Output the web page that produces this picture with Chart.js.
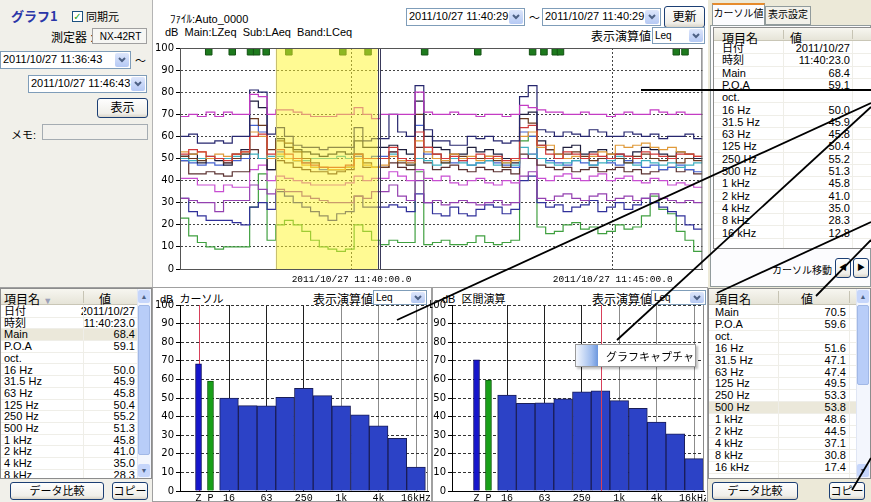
<!DOCTYPE html>
<html lang="ja"><head><meta charset="utf-8">
<title>グラフ1</title>
<script src="https://cdn.jsdelivr.net/npm/chart.js@4.4.1/dist/chart.umd.min.js"></script>
<style>
body{margin:0;width:871px;height:502px;position:relative;overflow:hidden;background:#f1f0ea;font:11px "Liberation Sans","Noto Sans CJK JP",sans-serif;color:#000}
.p{position:absolute;white-space:nowrap}
.box{position:absolute;box-sizing:border-box;background:#fff;border:1px solid #7f9db9;line-height:15px;padding-left:2px;overflow:hidden}
.dd{position:absolute;right:1px;top:1px;bottom:1px;width:14px;border-radius:2px;background:linear-gradient(#dde6fb,#b5c9f4);display:flex;align-items:center;justify-content:center}
.btn{position:absolute;box-sizing:border-box;border:1px solid #1c3f74;border-radius:3px;background:linear-gradient(#fefefe,#f0efea 80%,#d9d4c8);text-align:center}
.tbl{position:absolute;box-sizing:border-box;background:#fff;border:1px solid #8c8c8c;overflow:hidden}
.row{position:absolute;left:0;right:0;box-sizing:border-box;border-bottom:1px solid #efeee8}
.hd{position:absolute;left:0;right:0;top:0;box-sizing:border-box;background:linear-gradient(#f7f6f0,#e6e4d8);border-bottom:1px solid #c9c6b6;font-size:12px}
canvas{position:absolute}
</style></head><body>

<!-- 左上パネル -->
<div class="p" style="left:11px;top:6px;font:bold 13px 'Noto Sans CJK JP';color:#2a36a8">グラフ1</div>
<div class="p" style="left:72px;top:11px;width:11px;height:11px;box-sizing:border-box;border:1px solid #1c5180;background:#fff;color:#21a121;font:bold 10px/9px 'DejaVu Sans';text-align:center">✓</div>
<div class="p" style="left:86px;top:8px">同期元</div>
<div class="p" style="left:51px;top:28px;font-size:12px">測定器 :</div>
<div class="box" style="left:92px;top:28px;width:55px;height:16px;background:#f6f6f3;border-color:#a0a0a0;text-align:center;font-size:10px">NX-42RT</div>
<div class="box" style="left:0;top:51px;width:131px;height:18px">2011/10/27 11:36:43<div class="dd"><svg width="8" height="6"><polyline points="1,1 4,4 7,1" fill="none" stroke="#4d6185" stroke-width="2"/></svg></div></div>
<div class="p" style="left:135px;top:52px">〜</div>
<div class="box" style="left:28px;top:75px;width:119px;height:18px">2011/10/27 11:46:43<div class="dd"><svg width="8" height="6"><polyline points="1,1 4,4 7,1" fill="none" stroke="#4d6185" stroke-width="2"/></svg></div></div>
<div class="btn" style="left:97px;top:98px;width:51px;height:20px;line-height:18px;font-size:12px">表示</div>
<div class="p" style="left:11px;top:126px">メモ:</div>
<div class="box" style="left:42px;top:124px;width:106px;height:16px;background:#f2f1ed;border-color:#a5acb2"></div>

<!-- 上グラフ -->
<div class="p" style="left:152px;top:0;width:556px;height:287px;background:#fff;border-left:1px solid #b4b4b4;box-sizing:border-box"></div>
<div class="p" style="left:170px;top:10px">ﾌｧｲﾙ:Auto_0000</div>
<div class="p" style="left:165px;top:26px">dB&nbsp;&nbsp;Main:LZeq&nbsp;&nbsp;Sub:LAeq&nbsp;&nbsp;Band:LCeq</div>
<div class="box" style="left:406px;top:8px;width:119px;height:18px">2011/10/27 11:40:29<div class="dd"><svg width="8" height="6"><polyline points="1,1 4,4 7,1" fill="none" stroke="#4d6185" stroke-width="2"/></svg></div></div>
<div class="p" style="left:529px;top:9px">〜</div>
<div class="box" style="left:542px;top:8px;width:119px;height:18px">2011/10/27 11:40:29<div class="dd"><svg width="8" height="6"><polyline points="1,1 4,4 7,1" fill="none" stroke="#4d6185" stroke-width="2"/></svg></div></div>
<div class="btn" style="left:664px;top:6px;width:41px;height:22px;line-height:20px;font-size:12px">更新</div>
<div class="p" style="left:591px;top:27px;font-size:12px">表示演算値</div>
<div class="box" style="left:652px;top:27px;width:53px;height:17px;font-size:10px">Leq<div class="dd"><svg width="8" height="6"><polyline points="1,1 4,4 7,1" fill="none" stroke="#4d6185" stroke-width="2"/></svg></div></div>
<canvas id="trend" width="556" height="247" style="left:152px;top:40px"></canvas>

<!-- 右上パネル -->
<div class="p" style="left:708px;top:0;width:163px;height:287px;background:#ece9d8"></div>
<div class="p" style="left:712px;top:3px;width:53px;height:22px;box-sizing:border-box;background:#fcfcfe;border:1px solid #919b9c;border-bottom:none;border-top:2px solid #e68b2c;text-align:center;line-height:18px;font-size:10px">カーソル値</div>
<div class="p" style="left:765px;top:6px;width:46px;height:19px;box-sizing:border-box;background:#f2f1ea;border:1px solid #919b9c;text-align:center;line-height:16px;font-size:10px">表示設定</div>
<div class="p" style="left:710px;top:25px;width:161px;height:262px;box-sizing:border-box;background:#fcfcfe;border:1px solid #919b9c"></div>
<div class="tbl" id="tblCursor" style="left:713px;top:27px;width:160px;height:222px"></div>
<div class="p" style="left:772px;top:262px;font-size:10px">カーソル移動</div>
<div class="btn" style="left:835px;top:258px;width:16px;height:20px;font-size:8px;line-height:18px">◀</div>
<div class="btn" style="left:853px;top:258px;width:16px;height:20px;font-size:8px;line-height:18px">▶</div>

<!-- 左下テーブル -->
<div class="p" style="left:0;top:287px;width:152px;height:215px;background:#f1f0ea;border-top:1px solid #a0a0a0;box-sizing:border-box"></div>
<div class="tbl" id="tblLeft" style="left:0;top:288px;width:152px;height:191px"></div>
<div class="btn" style="left:10px;top:482px;width:94px;height:18px;line-height:16px">データ比較</div>
<div class="btn" style="left:112px;top:482px;width:36px;height:18px;line-height:16px">コピー</div>

<!-- 下グラフ -->
<div class="p" style="left:152px;top:287px;width:280px;height:215px;background:#fff;border:1px solid #a0a0a0;box-sizing:border-box"></div>
<div class="p" style="left:432px;top:287px;width:276px;height:215px;background:#fff;border:1px solid #a0a0a0;box-sizing:border-box"></div>
<div class="p" style="left:160px;top:290px">dB&nbsp;&nbsp;カーソル</div>
<div class="p" style="left:313px;top:290px;font-size:12px">表示演算値</div>
<div class="box" style="left:373px;top:290px;width:54px;height:15px;line-height:13px;font-size:10px">Leq<div class="dd"><svg width="8" height="6"><polyline points="1,1 4,4 7,1" fill="none" stroke="#4d6185" stroke-width="2"/></svg></div></div>
<div class="p" style="left:442px;top:290px">dB&nbsp;&nbsp;区間演算</div>
<div class="p" style="left:592px;top:290px;font-size:12px">表示演算値</div>
<div class="box" style="left:651px;top:290px;width:55px;height:15px;line-height:13px;font-size:10px">Leq<div class="dd"><svg width="8" height="6"><polyline points="1,1 4,4 7,1" fill="none" stroke="#4d6185" stroke-width="2"/></svg></div></div>
<canvas id="barCursor" width="278" height="205" style="left:152px;top:297px"></canvas>
<canvas id="barInterval" width="276" height="205" style="left:430px;top:297px"></canvas>

<!-- 右下テーブル -->
<div class="p" style="left:708px;top:287px;width:163px;height:215px;background:#ece9d8"></div>
<div class="tbl" id="tblRight" style="left:708px;top:288px;width:163px;height:191px"></div>
<div class="btn" style="left:712px;top:482px;width:86px;height:18px;line-height:16px">データ比較</div>
<div class="btn" style="left:829px;top:482px;width:36px;height:18px;line-height:16px">コピー</div>

<!-- コンテキストメニュー -->
<div class="p" style="left:575px;top:344px;width:121px;height:23px;box-sizing:border-box;background:#fff;border:1px solid #9a9a9a;box-shadow:2px 2px 2px rgba(0,0,0,.25)">
  <div class="p" style="left:0;top:0;width:22px;height:21px;background:linear-gradient(90deg,#f4f7fd,#9fbdee 70%,#6d98de)"></div>
  <div class="p" style="left:30px;top:3px">グラフキャプチャ</div>
</div>

<svg class="p" width="871" height="502" style="left:0;top:0" stroke="#000" stroke-width="1.8">
  <line x1="641" y1="90" x2="871" y2="90"/>
  <line x1="397" y1="320" x2="871" y2="103"/>
  <line x1="617" y1="340" x2="871" y2="107"/>
  <line x1="717" y1="293" x2="871" y2="222"/>
  <line x1="816" y1="296" x2="871" y2="240"/>
  <line x1="852" y1="490" x2="871" y2="458"/>
</svg>

<script>
// 時間軸 (秒, 11:36:43 起点, 10秒ステップ)
const STEP_SEC = 10
const TIME_TICKS = [197, 497]
const TIME_LABELS = ['2011/10/27 11:40:00.0', '2011/10/27 11:45:00.0']
const HIGHLIGHT = [110, 227]
const CURSOR_T = 228

const MAIN  = [69,70,69,71,69,71,70,70, 79,78, 70, 72,72,71,70,69,69,69,70,70,73,70,68,70, 70,70,70, 80, 71,70,70,71,70,70,69,70,70,69,70, 74,73, 72,71,71,70,70,71,70,70,69,70,71,70,70,72,71,70,71,70,70]
const POA   = [60,61,57,57,58,57,60,60, 81,80, 61, 64,60,56,55,55,54,55,55,55,64,58,59,59, 70,62,60, 83, 63,58,58,56,56,60,59,60,58,57,58, 78,83, 63,62,60,62,61,60,63,62,60,60,62,61,60,61,59,60,60,61,59]
const B16   = [52,54,53,51,50,49,52,53, 60,61, 52, 54,52,50,48,47,46,46,46,47,52,50,50,50, 55,50,49, 62, 55,52,50,51,49,50,52,50,51,49,50, 64,65, 56,52,50,53,52,50,52,51,50,52,51,50,53,52,51,50,52,52,51]
const B31   = [53,52,53,50,52,51,52,53, 62,60, 50, 52,50,49,47,46,46,45,45,46,50,47,46,47, 51,49,48, 58, 53,50,49,52,50,51,49,51,50,48,49, 60,62, 55,56,52,50,51,50,51,53,52,56,55,56,57,55,54,55,53,52,51]
const B63   = [51,50,49,50,50,48,50,52, 68,65, 54, 58,57,53,50,48,46,45,45,46,52,48,46,46, 53,48,47, 70, 55,52,48,52,51,50,50,51,49,46,50, 68,66, 56,54,50,52,53,51,49,50,52,50,48,51,52,50,49,51,48,50,49]
const B125  = [50,49,50,51,50,50,51,52, 52,50, 51, 51,50,49,49,50,50,50,51,50,52,50,50,50, 52,49,47, 50, 49,47,48,50,48,47,48,49,47,48,47, 55,52, 50,48,47,48,49,50,47,48,49,51,48,47,49,48,47,48,46,47,48]
const B250  = [51,52,48,50,49,47,52,54, 76,73, 45, 59,55,54,53,52,51,52,53,52,58,55,55,55, 56,54,52, 76, 60,55,54,50,52,55,53,54,52,50,48, 70,71, 58,54,52,55,56,52,53,54,50,52,51,53,55,54,52,51,53,52,50]
const B500  = [49,48,47,48,47,48,49,50, 65,62, 50, 53,50,49,48,46,45,45,45,46,51,50,51,51, 53,50,48, 65, 52,50,49,48,49,47,48,49,48,47,46, 62,60, 50,49,48,47,49,48,47,50,48,47,49,48,46,47,45,46,47,45,44]
const B1K   = [49,43,43,44,43,42,44,44, 54,50, 45, 49,48,46,45,44,44,43,44,45,50,46,46,46, 48,46,45, 55, 48,45,46,47,45,44,46,45,44,45,43, 52,50, 47,46,45,46,44,45,46,44,45,46,44,45,43,44,45,46,44,45,43]
const B2K   = [41,41,38,38,35,38,37,37, 45,47, 40, 42,41,40,39,38,38,38,38,39,42,40,41,41, 44,42,40, 45, 41,40,42,39,38,40,41,39,38,40,39, 50,52, 41,40,42,43,41,40,42,43,40,41,42,40,39,41,40,38,39,38,37]
const B4K   = [32,31,30,30,26,31,31,31, 38,36, 34, 36,35,35,33,32,31,30,30,30,33,32,35,35, 38,33,31, 40, 30,31,29,30,31,30,29,30,31,29,30, 42,44, 32,31,33,34,32,31,33,34,31,32,33,31,32,34,32,31,30,31,30]
const B8K   = [32,26,24,22,22,22,21,20, 28,30, 27, 35,33,30,28,26,24,22,25,26,33,28,28,28, 29,28,26, 34, 30,25,24,28,25,24,27,29,28,25,27, 40,42, 30,28,29,26,28,29,31,26,28,30,27,29,32,30,28,26,24,20,18]
const B16K  = [23,15,12,10,9,10,10,10, 28,43, 13, 20,22,20,17,13,10,9,8,9,20,17,13,11, 13,12,12, 44, 11,12,13,11,11,12,15,12,11,12,13, 58,60, 19,16,17,20,21,18,19,16,17,20,18,19,24,33,27,25,17,13,8]

const MARKER_TIMES = [33, 60, 81, 88, 99, 125, 187, 216, 281, 342, 405, 418, 431, 437, 570, 580]
const MARKER_LEVEL = 98.3

// バー (カーソル / 区間演算)
const BAND_NAMES = ['16 Hz','31.5 Hz','63 Hz','125 Hz','250 Hz','500 Hz','1 kHz','2 kHz','4 kHz','8 kHz','16 kHz']
const CURSOR_DATE = '2011/10/27'
const CURSOR_TIME = '11:40:23.0'
const CURSOR_MAIN = 68.4
const CURSOR_POA = 59.1
const CURSOR_BANDS = [50.0,45.9,45.8,50.4,55.2,51.3,45.8,41.0,35.0,28.3,12.8]
const INTERVAL_MAIN = 70.5
const INTERVAL_POA = 59.6
const INTERVAL_BANDS = [51.6,47.1,47.4,49.5,53.3,53.8,48.6,44.5,37.1,30.8,17.4]
const BAR_TICKS = [-1.63, -0.99, 0, 2, 4, 6, 8, 10]
const BAR_TICK_LABELS = ['Z','P','16','63','250','1k','4k','16kHz']

function steps(vals){
	const pts = vals.map((v, i) => ({x: i * STEP_SEC, y: v}))
	pts.push({x: vals.length * STEP_SEC, y: vals[vals.length - 1]})
	return pts
}

function trendChart(id){
	const series = [
		[MAIN,'#c43cc4'],[POA,'#26266e'],[B16,'#d03a3a'],[B31,'#e09a3a'],[B63,'#6a3a20'],
		[B125,'#3eb0c0'],[B250,'#1e1e3c'],[B500,'#4462d0'],[B1K,'#5a3030'],[B2K,'#c84ed2'],
		[B4K,'#9440b0'],[B8K,'#30309a'],[B16K,'#40a040']
	]
	const datasets = series.map(s => ({data: steps(s[0]), borderColor: s[1], borderWidth: 1.2, stepped: true, pointRadius: 0, fill: false}))
	datasets.push({
		type: 'scatter', data: MARKER_TIMES.map(t => ({x: t, y: MARKER_LEVEL})),
		pointStyle: 'rect', pointRadius: 4.6, backgroundColor: '#1d7a1d', borderColor: '#145214', borderWidth: 1, showLine: false
	})
	const overlay = {
		id: 'overlay',
		afterDatasetsDraw(chart){
			const {ctx, chartArea: a, scales: {x}} = chart
			const x0 = x.getPixelForValue(HIGHLIGHT[0]), x1 = x.getPixelForValue(HIGHLIGHT[1])
			ctx.save()
			ctx.fillStyle = 'rgba(255,246,40,0.5)'
			ctx.fillRect(x0, a.top, x1 - x0, a.bottom - a.top)
			ctx.strokeStyle = '#c8c070'
			ctx.lineWidth = 1
			ctx.beginPath(); ctx.moveTo(Math.round(x0) + .5, a.top); ctx.lineTo(Math.round(x0) + .5, a.bottom); ctx.stroke()
			const xc = Math.round(x.getPixelForValue(CURSOR_T))
			ctx.strokeStyle = '#3a3a5a'
			ctx.beginPath()
			ctx.moveTo(xc - .5, a.top); ctx.lineTo(xc - .5, a.bottom)
			ctx.moveTo(xc + 1.5, a.top); ctx.lineTo(xc + 1.5, a.bottom)
			ctx.stroke()
			ctx.strokeStyle = '#555'
			ctx.strokeRect(a.left + .5, a.top + .5, a.right - a.left - 1, a.bottom - a.top)
			ctx.restore()
		}
	}
	new Chart(document.getElementById(id), {
		type: 'line',
		data: {datasets: datasets},
		plugins: [overlay],
		options: {
			responsive: false, animation: false, events: [],
			layout: {padding: {top: 8, right: 2, left: 0, bottom: 0}},
			plugins: {legend: {display: false}, tooltip: {enabled: false}},
			scales: {
				x: {
					type: 'linear', min: 0, max: 600,
					afterBuildTicks: s => { s.ticks = TIME_TICKS.map(v => ({value: v})) },
					afterFit: s => { s.height = 18; s.paddingLeft = 0; s.paddingRight = 0 },
					ticks: {callback: (v, i) => TIME_LABELS[i], autoSkip: false, maxRotation: 0, padding: 5, color: '#000', font: {family: 'Liberation Mono', size: 9.5}},
					grid: {color: '#444', drawTicks: false},
					border: {color: '#000', dash: [2, 2]}
				},
				y: {
					min: 0, max: 100,
					afterFit: s => { s.width = 28; s.paddingTop = 0; s.paddingBottom = 0 },
					ticks: {stepSize: 10, padding: 2, color: '#000', font: {family: 'DejaVu Sans', size: 10}},
					grid: {color: '#444', tickLength: 4, tickColor: '#000', tickBorderDash: []},
					border: {color: '#000', dash: [2, 2]}
				}
			}
		}
	})
}

function bandChart(id, zVal, pVal, bands, xMin, xMax, cursorX, cursorOnTop){
	const cursorLine = {
		id: 'cursorLine',
		draw(chart){
			const {ctx, chartArea: a, scales: {x}} = chart
			const px = Math.round(x.getPixelForValue(cursorX)) + .5
			ctx.save()
			ctx.strokeStyle = '#d8405a'
			ctx.lineWidth = 1
			ctx.beginPath(); ctx.moveTo(px, a.top); ctx.lineTo(px, a.bottom); ctx.stroke()
			ctx.strokeStyle = '#8a8a8a'
			ctx.beginPath(); ctx.moveTo(a.right - .5, a.top); ctx.lineTo(a.right - .5, a.bottom); ctx.stroke()
			ctx.restore()
		},
		beforeDatasetsDraw(chart){ if (!cursorOnTop) this.draw(chart) },
		afterDatasetsDraw(chart){ if (cursorOnTop) this.draw(chart) }
	}
	new Chart(document.getElementById(id), {
		type: 'bar',
		data: {datasets: [
			{data: [{x: BAR_TICKS[0], y: zVal}], backgroundColor: '#1616cc', borderColor: '#0c0c60', borderWidth: 1, barThickness: 6},
			{data: [{x: BAR_TICKS[1], y: pVal}], backgroundColor: '#18a018', borderColor: '#0c5a0c', borderWidth: 1, barThickness: 6},
			{data: bands.map((v, i) => ({x: i, y: v})), backgroundColor: '#2c42c6', borderColor: '#1a1e58', borderWidth: {top: 1, left: 1, right: 1, bottom: 0}, barThickness: 18.7}
		]},
		plugins: [cursorLine],
		options: {
			responsive: false, animation: false, events: [],
			datasets: {bar: {grouped: false}},
			layout: {padding: {top: 8, right: 2, left: 0, bottom: 0}},
			plugins: {legend: {display: false}, tooltip: {enabled: false}},
			scales: {
				x: {
					type: 'linear', min: xMin, max: xMax, offset: false,
					afterBuildTicks: s => { s.ticks = BAR_TICKS.map(v => ({value: v})) },
					afterFit: s => { s.height = 11; s.paddingLeft = 0; s.paddingRight = 0 },
					ticks: {callback: (v, i) => BAR_TICK_LABELS[i], autoSkip: false, maxRotation: 0, padding: 1, color: '#000', font: {family: 'Liberation Mono', size: 10}},
					grid: {offset: false, drawTicks: false, color: c => c.tick && c.tick.value >= 0 ? (c.tick.value >= 5 ? '#8c8c8c' : '#202020') : 'rgba(0,0,0,0)'},
					border: {color: '#000'}
				},
				y: {
					min: 0, max: 100,
					afterFit: s => { s.width = id === 'barCursor' ? 28 : 22; s.paddingTop = 0; s.paddingBottom = 0 },
					ticks: {stepSize: 10, padding: 2, color: '#000', font: {family: 'DejaVu Sans', size: 10}},
					grid: {color: '#333', tickLength: 4, tickColor: '#000', tickBorderDash: []},
					border: {color: '#000', dash: [3, 2]}
				}
			}
		}
	})
}

function fillTable(id, opt){
	const el = document.getElementById(id)
	let html = '<div class="hd" style="height:' + opt.head + 'px"><span class="p" style="left:' + opt.nameX + 'px;top:1px">項目名' + (opt.sortMark ? ' <span style="color:#9aa0b8;font-size:9px">▼</span>' : '') + '</span><span class="p" style="left:' + opt.valX + 'px;top:1px">値</span>'
	opt.seps.forEach(s => { html += '<span class="p" style="left:' + s + 'px;top:2px;width:1px;height:' + (opt.head - 4) + 'px;background:#c7c4b4"></span>' })
	html += '</div>'
	opt.rows.forEach((r, i) => {
		const top = opt.head + opt.start + i * opt.rowH
		html += '<div class="row" style="top:' + top + 'px;height:' + opt.rowH + 'px;line-height:' + opt.rowH + 'px;' + (r[2] ? 'background:#ebe8da;' : '') + '">'
			+ '<span class="p" style="left:' + opt.nameX + 'px">' + r[0] + '</span>'
			+ '<span class="p" style="right:' + opt.valR + 'px">' + r[1] + '</span></div>'
	})
	opt.seps.forEach(s => { html += '<span class="p" style="left:' + s + 'px;top:' + opt.head + 'px;width:1px;bottom:0;background:#efeee8"></span>' })
	if (opt.scroll) {
		html += '<div class="p" style="right:0;top:0;bottom:0;width:13px;background:#f3f6fd;border-left:1px solid #e0e6f4"></div>'
			+ '<div class="p" style="right:1px;top:1px;width:12px;height:13px;border-radius:2px;background:#c6d6fb;color:#4d6185;font-size:7px;text-align:center;line-height:13px">▲</div>'
			+ '<div class="p" style="right:1px;top:' + opt.thumb[0] + 'px;width:12px;height:' + opt.thumb[1] + 'px;border-radius:2px;background:#b8cdf8;border:1px solid #a1b8e6;box-sizing:border-box"></div>'
			+ '<div class="p" style="right:1px;bottom:1px;width:12px;height:13px;border-radius:2px;background:#c6d6fb;color:#4d6185;font-size:7px;text-align:center;line-height:13px">▼</div>'
	}
	el.innerHTML = html
}

function cursorRows(selectMain){
	const rows = [['日付', CURSOR_DATE], ['時刻', CURSOR_TIME], ['Main', CURSOR_MAIN.toFixed(1), selectMain], ['P.O.A', CURSOR_POA.toFixed(1)], ['oct.', '']]
	BAND_NAMES.forEach((b, i) => rows.push([b, CURSOR_BANDS[i].toFixed(1)]))
	return rows
}
function intervalRows(){
	const rows = [['Main', INTERVAL_MAIN.toFixed(1)], ['P.O.A', INTERVAL_POA.toFixed(1)], ['oct.', '']]
	BAND_NAMES.forEach((b, i) => rows.push([b, INTERVAL_BANDS[i].toFixed(1), i === 5]))
	return rows
}

trendChart('trend')
bandChart('barCursor', CURSOR_MAIN, CURSOR_POA, CURSOR_BANDS, -2.62, 10.64, BAR_TICKS[0], false)
bandChart('barInterval', INTERVAL_MAIN, INTERVAL_POA, INTERVAL_BANDS, -2.94, 10.53, 5, true)

fillTable('tblCursor', {rows: cursorRows(false), head: 13, start: 1, rowH: 12.3, nameX: 8, valX: 76, valR: 22, seps: [69, 138]})
fillTable('tblLeft', {rows: cursorRows(true), head: 16, start: 1, rowH: 11.7, nameX: 3, valX: 98, valR: 16, seps: [82], sortMark: true, scroll: true, thumb: [16, 150]})
fillTable('tblRight', {rows: intervalRows(), head: 16, start: 2, rowH: 11.9, nameX: 6, valX: 92, valR: 24, seps: [69, 140], scroll: true, thumb: [16, 80]})
</script>
</body></html>
